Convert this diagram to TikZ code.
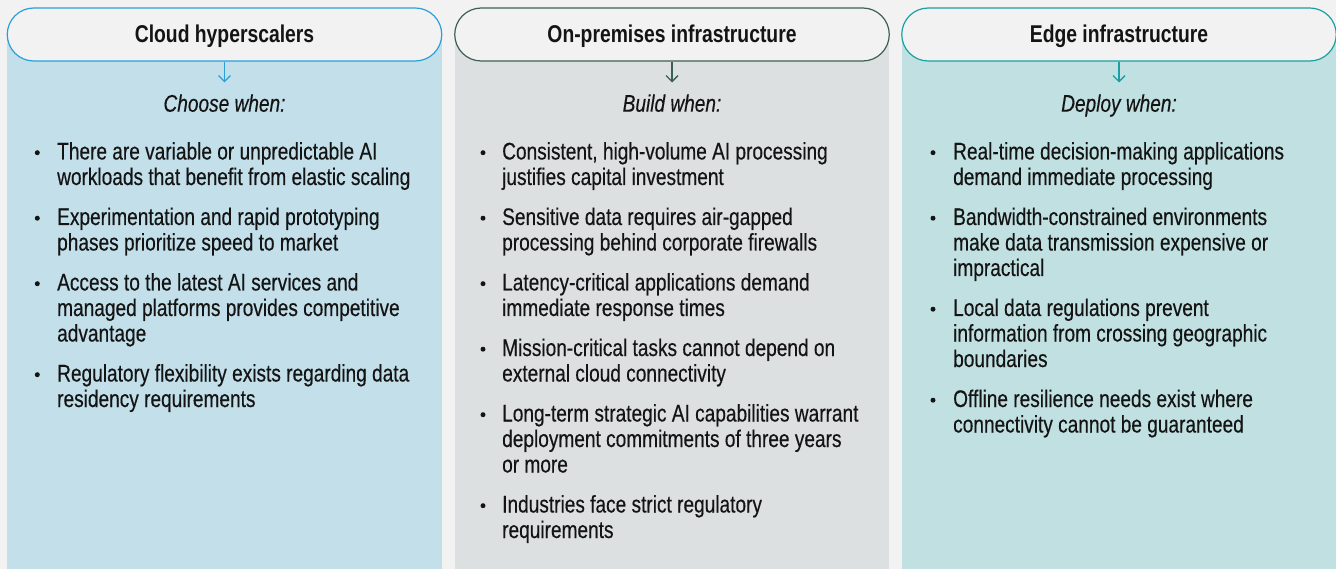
\documentclass[tikz,border=0pt]{standalone}
\usepackage{fontspec}
\setmainfont[FakeStretch=0.795,
  UprightFeatures={FakeBold=0.35},
  ItalicFeatures={FakeBold=0.35}]{Liberation Sans}
\usetikzlibrary{arrows.meta}
\definecolor{bg}{HTML}{F2F2F2}
\definecolor{ink}{HTML}{141414}
\definecolor{fillA}{HTML}{C2DFEA}
\definecolor{fillB}{HTML}{DDE0E1}
\definecolor{fillC}{HTML}{C0E0E1}
\definecolor{lineA}{HTML}{2A9FD9}
\definecolor{lineB}{HTML}{3C5F55}
\definecolor{lineC}{HTML}{1AA0A2}
\begin{document}
\begin{tikzpicture}[x=1pt,y=-1pt,
  font=\fontsize{24}{25.5}\selectfont,
  pill/.style={draw=#1, fill=bg, line width=1.2pt, rounded corners=26.5pt,
     minimum width=434.5pt, minimum height=53pt, inner sep=0pt,
     text height=16pt, text depth=0pt, font=\fontsize{24.3}{25.5}\selectfont\bfseries, text=ink},
  when/.style={anchor=base, inner sep=0pt, font=\fontsize{24}{25.5}\selectfont\itshape, text=ink},
  txt/.style={anchor=base west, inner sep=0pt, text=ink},
  arr/.style={draw=#1, line width=1.3pt, -{Straight Barb[length=6pt,width=12pt,line width=1.3pt]}},
  dot/.style={fill=ink}
]
\useasboundingbox[fill=bg] (0,0) rectangle (1336,569);

% panels
\fill[fillA] (7,34) rectangle (442,569);
\fill[fillB] (455,34) rectangle (889,569);
\fill[fillC] (902,34) rectangle (1336,569);

% headers
\node[pill=lineA] (h1) at (224.5,34.5) {Cloud hyperscalers};
\node[pill=lineB] (h2) at (672,34.5) {On-premises infrastructure};
\node[pill=lineC] (h3) at (1119,34.5) {Edge infrastructure};

\coordinate (a1) at (224.5,82.5);
\coordinate (a2) at (672,82.5);
\coordinate (a3) at (1119,82.5);
\draw[arr=lineA] (h1) -- (a1);
\draw[arr=lineB] (h2) -- (a2);
\draw[arr=lineC] (h3) -- (a3);

\node[when] (w1) at (224.5,111.7) {Choose when:};
\node[when] (w2) at (672,111.7) {Build when:};
\node[when] (w3) at (1119,111.7) {Deploy when:};

% panel 1
\fill[dot] (37.3,152.7) circle (2.5);
\node[txt] (p1a1) at (57,159.5) {There are variable or unpredictable AI};
\node[txt] (p1a2) at (57,185) {workloads that benefit from elastic scaling};
\fill[dot] (37.3,218.2) circle (2.5);
\node[txt] (p1b1) at (57,225) {Experimentation and rapid prototyping};
\node[txt] (p1b2) at (57,250.5) {phases prioritize speed to market};
\fill[dot] (37.3,283.7) circle (2.5);
\node[txt] (p1c1) at (57,290.5) {Access to the latest AI services and};
\node[txt] (p1c2) at (57,316) {managed platforms provides competitive};
\node[txt] (p1c3) at (57,341.5) {advantage};
\fill[dot] (37.3,374.7) circle (2.5);
\node[txt] (p1d1) at (57,381.5) {Regulatory flexibility exists regarding data};
\node[txt] (p1d2) at (57,407) {residency requirements};

% panel 2
\fill[dot] (483,152.7) circle (2.5);
\node[txt] (p2a1) at (502,159.5) {Consistent, high-volume AI processing};
\node[txt] (p2a2) at (502,185) {justifies capital investment};
\fill[dot] (483,218.2) circle (2.5);
\node[txt] (p2b1) at (502,225) {Sensitive data requires air-gapped};
\node[txt] (p2b2) at (502,250.5) {processing behind corporate firewalls};
\fill[dot] (483,283.7) circle (2.5);
\node[txt] (p2c1) at (502,290.5) {Latency-critical applications demand};
\node[txt] (p2c2) at (502,316) {immediate response times};
\fill[dot] (483,349.2) circle (2.5);
\node[txt] (p2d1) at (502,356) {Mission-critical tasks cannot depend on};
\node[txt] (p2d2) at (502,381.5) {external cloud connectivity};
\fill[dot] (483,414.7) circle (2.5);
\node[txt] (p2e1) at (502,421.5) {Long-term strategic AI capabilities warrant};
\node[txt] (p2e2) at (502,447) {deployment commitments of three years};
\node[txt] (p2e3) at (502,472.5) {or more};
\fill[dot] (483,505.7) circle (2.5);
\node[txt] (p2f1) at (502,512.5) {Industries face strict regulatory};
\node[txt] (p2f2) at (502,538) {requirements};

% panel 3
\fill[dot] (933,152.7) circle (2.5);
\node[txt] (p3a1) at (953,159.5) {Real-time decision-making applications};
\node[txt] (p3a2) at (953,185) {demand immediate processing};
\fill[dot] (933,218.2) circle (2.5);
\node[txt] (p3b1) at (953,225) {Bandwidth-constrained environments};
\node[txt] (p3b2) at (953,250.5) {make data transmission expensive or};
\node[txt] (p3b3) at (953,276) {impractical};
\fill[dot] (933,309.2) circle (2.5);
\node[txt] (p3c1) at (953,316) {Local data regulations prevent};
\node[txt] (p3c2) at (953,341.5) {information from crossing geographic};
\node[txt] (p3c3) at (953,367) {boundaries};
\fill[dot] (933,400.2) circle (2.5);
\node[txt] (p3d1) at (953,407) {Offline resilience needs exist where};
\node[txt] (p3d2) at (953,432.5) {connectivity cannot be guaranteed};
\end{tikzpicture}
\end{document}
